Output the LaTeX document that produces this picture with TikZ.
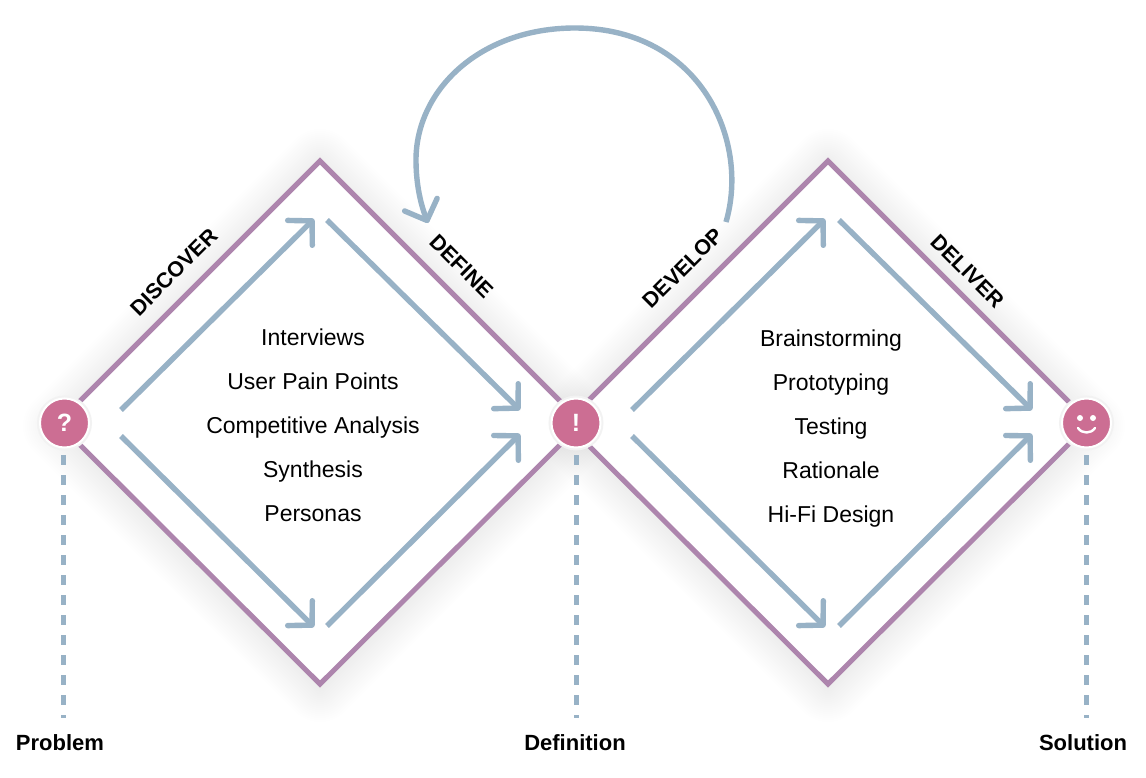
\documentclass[tikz,border=0pt]{standalone}
\usepackage{fontspec}
\setmainfont{Liberation Sans}
\usetikzlibrary{arrows.meta}
\definecolor{flowblue}{HTML}{98B2C6}
\definecolor{edgepurple}{HTML}{AD85AD}
\definecolor{stagepink}{HTML}{CC6E93}
\definecolor{ringgray}{HTML}{F2F2F2}
\tikzset{
  halo/.style={draw=black,draw opacity=0.0028,line join=round},
  diamondbox/.style={fill=white,draw=edgepurple,line width=5pt,line join=miter},
  flow/.style={draw=flowblue,line width=5.4pt,-{Straight Barb[length=17pt,width=35pt,round]}},
  stage/.style={circle,fill=stagepink,draw=white,line width=2pt,minimum size=49pt,inner sep=0pt,
    preaction={draw=ringgray,line width=6pt},text=white,font=\bfseries\fontsize{25}{25}\selectfont},
  guide/.style={draw=flowblue,line width=5pt,dash pattern=on 10pt off 10pt,shorten >=14pt},
  item/.style={font=\fontsize{23}{23}\selectfont,text height=17pt,text depth=2pt},
  phase/.style={font=\bfseries\fontsize{21.5}{21.5}\selectfont,text height=15pt,text depth=0pt},
  outcome/.style={font=\bfseries\fontsize{22}{22}\selectfont,text height=15pt,text depth=0pt},
}
\begin{document}
\begin{tikzpicture}[x=1pt,y=-1pt]
\useasboundingbox[fill=white] (0,0) rectangle (1146,778);
\foreach \w in {6,10,...,70}{
  \draw[halo,line width=\w pt] (58,426) -- (320,164) -- (582,426) -- (320,687) -- cycle;
  \draw[halo,line width=\w pt] (566,426) -- (828,164) -- (1090,426) -- (828,687) -- cycle;
}
\draw[diamondbox] (58,423) -- (320,161) -- (582,423) -- (320,684) -- cycle;
\draw[diamondbox] (566,423) -- (828,161) -- (1090,423) -- (828,684) -- cycle;
\node[stage] (problem) at (64.5,423) {?};
\node[stage] (definition) at (576,423) {!};
\node[stage] (solution) at (1086.5,423) {};
\fill[white] (1080,418) circle (3pt);
\fill[white] (1093,418) circle (3pt);
\draw[white,line width=2.4pt,line cap=round] (1078,428) .. controls (1082,434) and (1091,434) .. (1095,428);
\coordinate (a1) at (121,410);
\coordinate (a2) at (314,219);
\coordinate (b1) at (121,436);
\coordinate (b2) at (314,627);
\coordinate (c1) at (327,220);
\coordinate (c2) at (520,410);
\coordinate (d1) at (327,626);
\coordinate (d2) at (520,434);
\coordinate (e1) at (632,410);
\coordinate (e2) at (825,219);
\coordinate (f1) at (632,436);
\coordinate (f2) at (825,627);
\coordinate (g1) at (839,220);
\coordinate (g2) at (1032,410);
\coordinate (h1) at (839,626);
\coordinate (h2) at (1032,434);
\draw[flow] (a1) -- (a2);
\draw[flow] (b1) -- (b2);
\draw[flow] (c1) -- (c2);
\draw[flow] (d1) -- (d2);
\draw[flow] (e1) -- (e2);
\draw[flow] (f1) -- (f2);
\draw[flow] (g1) -- (g2);
\draw[flow] (h1) -- (h2);
\coordinate (loopstart) at (726,222);
\coordinate (loopend) at (428,223);
\draw[flow] (loopstart) .. controls (750,140) and (700,28) .. (575,28) .. controls (480,28) and (416,90) .. (416,160) .. controls (416,185) and (421,205) .. (loopend);
\node[item] (interviews) at (313,338) {Interviews};
\node[item] (painpoints) at (313,382) {User Pain Points};
\node[item] (competitive) at (313,426) {Competitive Analysis};
\node[item] (synthesis) at (313,470) {Synthesis};
\node[item] (personas) at (313,514) {Personas};
\node[item] (brainstorming) at (831,339) {Brainstorming};
\node[item] (prototyping) at (831,383) {Prototyping};
\node[item] (testing) at (831,427) {Testing};
\node[item] (rationale) at (831,471) {Rationale};
\node[item] (hifi) at (831,515) {Hi-Fi Design};
\node[phase,rotate=45] (discover) at (174,272) {DISCOVER};
\node[phase,rotate=-45] (define) at (462,266) {DEFINE};
\node[phase,rotate=45] (develop) at (683,268) {DEVELOP};
\node[phase,rotate=-45] (deliver) at (968,271) {DELIVER};
\node[outcome] (problemlabel) at (60,743) {Problem};
\node[outcome] (definitionlabel) at (575,743) {Definition};
\node[outcome] (solutionlabel) at (1083,743) {Solution};
\coordinate (p) at (63.5,455);
\coordinate (q) at (576,455);
\coordinate (r) at (1086.5,455);
\draw[guide] (p) -- (problemlabel.north -| p);
\draw[guide] (q) -- (definitionlabel.north -| q);
\draw[guide] (r) -- (solutionlabel.north -| r);
\end{tikzpicture}
\end{document}
